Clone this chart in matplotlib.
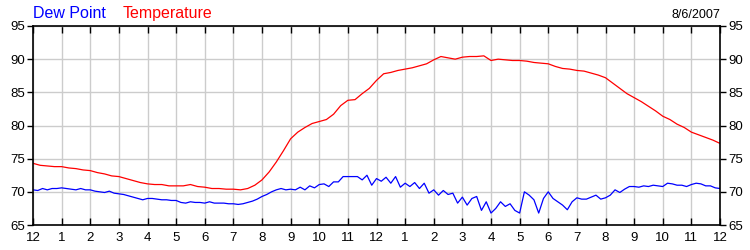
import matplotlib
matplotlib.use("Agg")
import matplotlib.pyplot as plt
import numpy as np

plt.rcParams['font.family'] = ['Liberation Sans', 'DejaVu Sans']

# temperature, every 15 minutes from midnight to midnight
temp = [74.3, 74.0, 73.9, 73.8, 73.8, 73.6, 73.5, 73.3, 73.2, 72.9, 72.7, 72.4,
        72.3, 72.0, 71.7, 71.4, 71.2, 71.1, 71.1, 70.9, 70.9, 70.9, 71.1, 70.8,
        70.7, 70.5, 70.5, 70.4, 70.4, 70.3, 70.5, 71.0, 71.8, 73.0, 74.5, 76.2,
        78.0, 79.0, 79.7, 80.3, 80.6, 80.9, 81.7, 83.0, 83.8, 83.9, 84.8, 85.6,
        86.8, 87.8, 88.0, 88.3, 88.5, 88.7, 89.0, 89.3, 89.9, 90.4, 90.2, 90.0,
        90.3, 90.4, 90.4, 90.5, 89.8, 90.0, 89.9, 89.8, 89.8, 89.7, 89.5, 89.4,
        89.3, 88.9, 88.6, 88.5, 88.3, 88.2, 87.9, 87.6, 87.2, 86.4, 85.6, 84.8,
        84.2, 83.6, 82.9, 82.2, 81.4, 80.9, 80.2, 79.7, 79.0, 78.6, 78.2, 77.8,
        77.3]

# dew point, every 10 minutes
dew = [70.3, 70.2, 70.5, 70.3, 70.5, 70.5, 70.6,
       70.5, 70.4, 70.3, 70.5, 70.3, 70.3,
       70.1, 70.0, 69.9, 70.1, 69.8, 69.7,
       69.6, 69.4, 69.2, 69.0, 68.8, 69.0,
       69.0, 68.9, 68.8, 68.8, 68.7, 68.7,
       68.4, 68.3, 68.5, 68.4, 68.4, 68.3,
       68.5, 68.3, 68.3, 68.3, 68.2, 68.2,
       68.1, 68.2, 68.4, 68.6, 68.9, 69.3,
       69.6, 70.0, 70.3, 70.5, 70.3, 70.4,
       70.3, 70.7, 70.3, 70.9, 70.6, 71.1,
       71.2, 70.8, 71.5, 71.5, 72.3, 72.3,
       72.3, 72.3, 71.8, 72.5, 71.0, 72.0,
       71.6, 72.2, 71.3, 72.3, 70.7, 71.3,
       70.8, 71.4, 70.5, 71.3, 69.8, 70.3,
       69.5, 70.2, 69.6, 69.8, 68.3, 69.2,
       68.0, 69.0, 69.3, 67.2, 68.5, 66.8,
       67.5, 68.5, 67.8, 68.2, 67.2, 66.8,
       70.0, 69.5, 68.8, 66.8, 69.0, 70.0,
       69.0, 68.5, 68.0, 67.3, 68.5, 69.1,
       68.9, 68.9, 69.2, 69.5, 68.9, 69.1,
       69.5, 70.3, 69.9, 70.4, 70.8, 70.8,
       70.7, 70.9, 70.8, 71.0, 70.9, 70.8,
       71.3, 71.2, 71.0, 71.0, 70.8, 71.1,
       71.3, 71.2, 70.9, 70.9, 70.6, 70.5]

t_temp = np.arange(len(temp)) * 0.25
t_dew = np.arange(len(dew)) / 6.0

hour_labels = ['12'] + [str(h) for h in range(1, 12)] + ['12'] + [str(h) for h in range(1, 12)] + ['12']
y_ticks = [65, 70, 75, 80, 85, 90, 95]

fig = plt.figure(figsize=(7.5, 2.5), dpi=100)
ax = fig.add_axes([0.044, 0.1, 0.916, 0.796])

ax.plot(t_temp, temp, color='#ff0000', lw=0.9)
ax.plot(t_dew, dew, color='#0000ff', lw=0.9)

ax.set_xlim(0, 24)
ax.set_ylim(65, 95)
ax.set_xticks(range(25))
ax.set_xticklabels(hour_labels, fontsize=9.5)
ax.set_yticks(y_ticks)
ax.set_yticklabels([str(v) for v in y_ticks], fontsize=9.5)
ax.grid(True, color='#cccccc', lw=1)
ax.set_axisbelow(True)

ax.tick_params(axis='x', direction='in', top=True, bottom=True, length=5, width=1, pad=5)
ax.tick_params(axis='y', direction='out', left=True, right=True, labelright=True,
               length=4, width=1, pad=2)
for s in ax.spines.values():
    s.set_linewidth(1.2)

fig.text(0.044, 0.915, 'Dew Point', color='#0000ff', fontsize=11.5, ha='left', va='bottom')
fig.text(0.164, 0.915, 'Temperature', color='#ff0000', fontsize=11.5, ha='left', va='bottom')
fig.text(0.96, 0.915, '8/6/2007', color='black', fontsize=9, ha='right', va='bottom')

fig.savefig('out.png', dpi=100)
